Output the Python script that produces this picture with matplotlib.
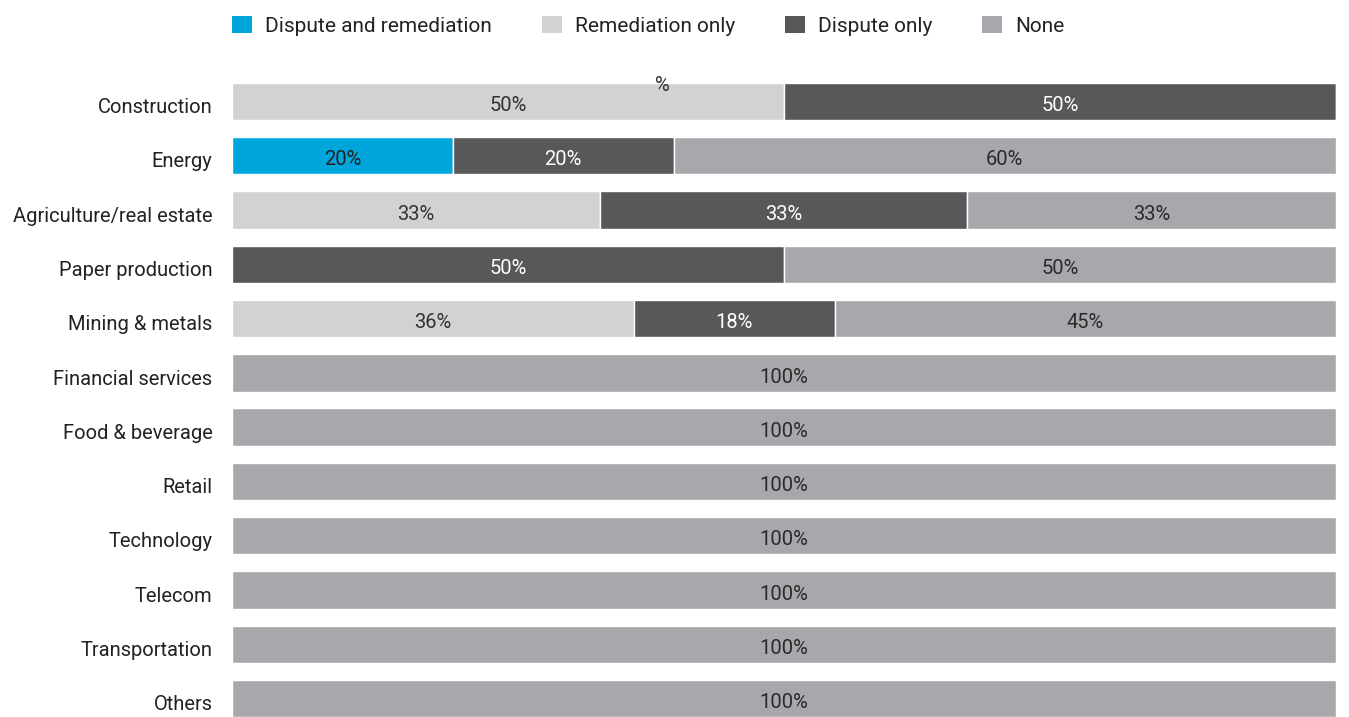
import matplotlib.pyplot as plt
from matplotlib.patches import Patch
from matplotlib.transforms import ScaledTranslation

plt.rcParams['font.family'] = ['Roboto', 'DejaVu Sans']

# sectors, top to bottom
sectors = ["Construction", "Energy", "Agriculture/real estate", "Paper production",
           "Mining & metals", "Financial services", "Food & beverage", "Retail",
           "Technology", "Telecom", "Transportation", "Others"]

# share of respondents (%) per outcome
dispute_and_remediation = [0, 20, 0, 0, 0, 0, 0, 0, 0, 0, 0, 0]
remediation_only = [50, 0, 33.3, 0, 36.4, 0, 0, 0, 0, 0, 0, 0]
dispute_only = [50, 20, 33.3, 50, 18.2, 0, 0, 0, 0, 0, 0, 0]
none = [0, 60, 33.4, 50, 45.4, 100, 100, 100, 100, 100, 100, 100]

series = [
    ("Dispute and remediation", dispute_and_remediation, "#00a6db", "#222222"),
    ("Remediation only", remediation_only, "#d2d2d2", "#333333"),
    ("Dispute only", dispute_only, "#58585a", "#ffffff"),
    ("None", none, "#a7a8ab", "#2a2a2a"),
]

fig = plt.figure(figsize=(13.49, 7.17), dpi=100)
ax = fig.add_axes([232 / 1349, 0, 1104 / 1349, 634 / 717])
down = ScaledTranslation(0, -3 / 72, fig.dpi_scale_trans)

ypos = list(range(len(sectors)))
left = [0] * len(sectors)
for name, vals, color, txtcolor in series:
    bars = ax.barh(ypos, vals, left=left, height=0.69, color=color,
                   edgecolor="white", linewidth=1.0, label=name)
    for rect, v in zip(bars, vals):
        if v > 0:
            ax.text(rect.get_x() + rect.get_width() / 2, rect.get_y() + rect.get_height() / 2,
                    f"{v:.0f}%", ha="center", va="center", fontsize=14.5, color=txtcolor,
                    transform=ax.transData + down)
    left = [l + v for l, v in zip(left, vals)]

# stray axis unit mark above the first bar
ax.text(39, -0.3, "%", ha="center", va="center", fontsize=14.5, color="#333333")

ax.set_xlim(0, 100)
ax.set_ylim(len(sectors) - 1 + 0.34, -0.34)
ax.set_yticks(ypos)
ax.set_yticklabels(sectors, fontsize=14.5, color="#222222")
ax.tick_params(axis="y", length=0, pad=14)
for lab in ax.get_yticklabels():
    lab.set_transform(lab.get_transform() + down)
ax.set_xticks([])
for s in ax.spines.values():
    s.set_visible(False)

handles = [Patch(facecolor=c, edgecolor="none", label=n) for n, _, c, _ in series]
fig.legend(handles=handles, loc="center left", bbox_to_anchor=(232 / 1349, 1 - 26 / 717),
           ncol=4, frameon=False, fontsize=15, handlelength=0.96, handleheight=0.9,
           handletextpad=0.62, columnspacing=2.4, borderpad=0, borderaxespad=0,
           labelcolor="#222222")

fig.savefig("out.png", dpi=100)
